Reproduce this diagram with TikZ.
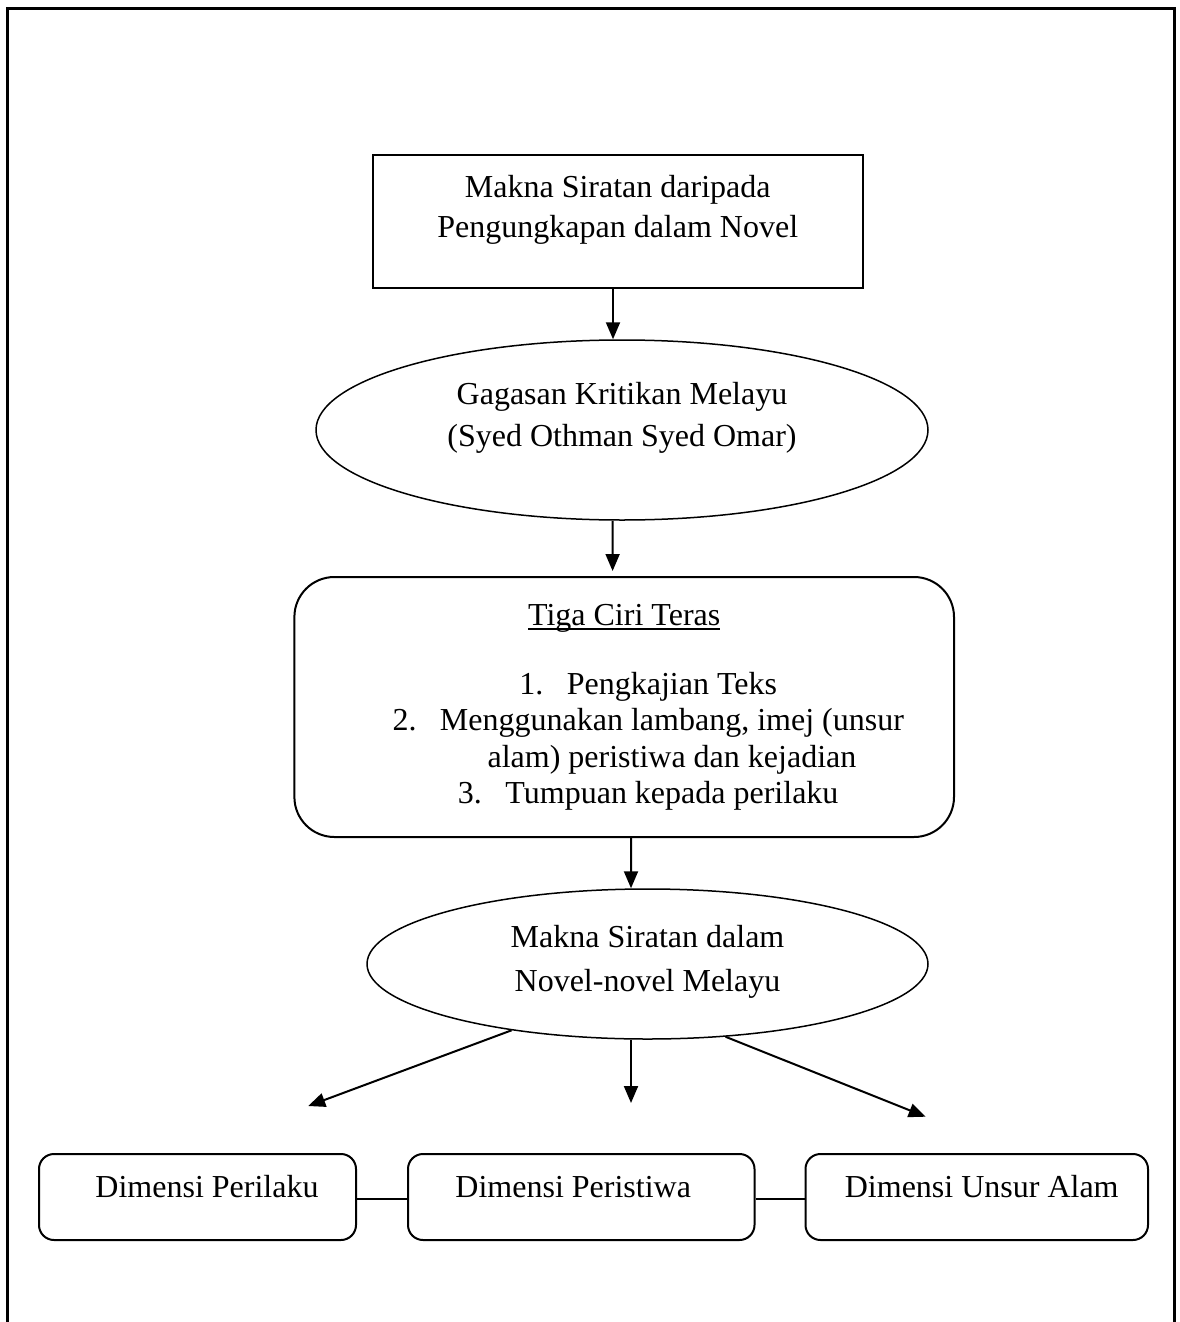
\documentclass[tikz,border=0pt]{standalone}
\usepackage{fontspec}
\setmainfont{Liberation Serif}
\usetikzlibrary{arrows.meta,shapes.geometric}
\newcommand\tcul[1]{\sbox0{#1}\rlap{\rule[-2.4pt]{\wd0}{0.8pt}}\usebox0}
\tikzset{
  sqbox/.style={draw, line width=1pt, inner sep=0pt, text height=0pt},
  rbox/.style={draw, line width=1pt, inner sep=0pt, text height=0pt, rounded corners=20pt},
  oval/.style={draw, ellipse, line width=0.75pt, inner sep=0pt, text height=0pt},
  dimbox/.style={draw, line width=1pt, inner sep=0pt, rounded corners=7.5pt,
    minimum height=43pt, text height=0.5pt, text depth=0pt,
    font=\fontsize{16pt}{20pt}\selectfont},
  arr/.style={-{Triangle[length=8.5pt,width=7pt]}, line width=1pt},
  conn/.style={line width=0.8pt},
  frame/.style={line width=1.5pt}
}
\begin{document}
\begin{tikzpicture}[x=0.5pt,y=-0.5pt]
\useasboundingbox (0,0) rectangle (1179,1322);
% outer frame (open at the bottom)
\draw[frame] (7.5,1335) -- (7.5,9) -- (1174.5,9) -- (1174.5,1335);

\node[sqbox, minimum width=245.25pt, minimum height=66.5pt, text depth=24.5pt,
      font=\fontsize{16pt}{20.5pt}\selectfont] (b1) at (617.75,221.5)
  {\begin{tabular}[t]{@{}c@{}}Makna Siratan daripada\\Pengungkapan dalam Novel\end{tabular}};

\node[oval, minimum width=306pt, minimum height=90pt, text depth=25.3pt,
      font=\fontsize{16pt}{20.65pt}\selectfont] (e1) at (622,430)
  {\begin{tabular}[t]{@{}c@{}}Gagasan Kritikan Melayu\\(Syed Othman Syed Omar)\end{tabular}};

\node[rbox, minimum width=329.8pt, minimum height=130pt, text depth=82pt,
      font=\fontsize{16pt}{18.3pt}\selectfont] (r1) at (624.2,707)
  {\begin{tabular}[t]{@{}c@{}}
   \tcul{Tiga Ciri Teras}\\[16.2pt]
   \hspace*{24pt}\makebox[23.75pt][l]{1.}Pengkajian Teks\\
   \hspace*{24pt}\makebox[23.75pt][l]{2.}Menggunakan lambang, imej (unsur\\
   \hspace*{47.75pt}alam) peristiwa dan kejadian\\
   \hspace*{24pt}\makebox[23.75pt][l]{3.}Tumpuan kepada perilaku
   \end{tabular}};

\node[oval, minimum width=280.5pt, minimum height=75pt, text depth=16.6pt,
      font=\fontsize{16pt}{21.8pt}\selectfont] (e2) at (647.5,964)
  {\begin{tabular}[t]{@{}c@{}}Makna Siratan dalam\\Novel-novel Melayu\end{tabular}};

\node[dimbox, minimum width=158.5pt] (dA) at (197.5,1197) {\hspace*{9.5pt}Dimensi Perilaku};
\node[dimbox, minimum width=173.25pt] (dB) at (581.25,1197) {Dimensi Peristiwa\hspace*{8pt}};
\node[dimbox, minimum width=171.25pt] (dC) at (976.75,1197) {\hspace*{5pt}Dimensi Unsur Alam};

\coordinate (tL) at (308.2,1106);
\coordinate (tM) at (631,1103);
\coordinate (tR) at (925.7,1116.7);

\draw[arr] ([xshift=-2.375pt]b1.south) -- ([xshift=-4.5pt]e1.north);
\draw[arr] ([xshift=-4.7pt]e1.south) -- ([xshift=-5.8pt,yshift=2.5pt]r1.north);
\draw[arr] ([xshift=3.4pt]r1.south) -- ([xshift=-8.25pt]e2.north);
\draw[arr] (e2.206.4) -- (tL);
\draw[arr] ([xshift=-8.25pt]e2.south) -- (tM);
\draw[arr] (e2.317.5) -- (tR);

\draw[conn] ([yshift=-1pt]dA.east) -- ([yshift=-1pt]dB.west);
\draw[conn] ([yshift=-1pt]dB.east) -- ([yshift=-1pt]dC.west);
\end{tikzpicture}
\end{document}
